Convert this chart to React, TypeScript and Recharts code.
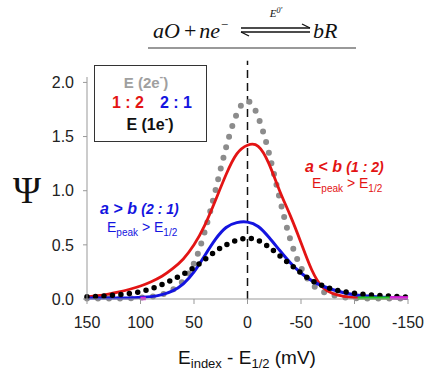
import React from "react";
import { LineChart, Line, XAxis, YAxis, ReferenceLine } from "recharts";

// potential axis, mV (reversed on screen)
const mV = [150, 140, 130, 120, 110, 100, 90, 80, 70, 60, 50, 40, 30, 20, 10, 0, -10, -20, -30, -40, -50, -60, -70, -80, -90, -100, -110, -120, -130, -140, -150];

// E (2e-) grey dotted
const grey2e = [0.005, 0.005, 0.005, 0.005, 0.007, 0.012, 0.02, 0.04, 0.085, 0.17, 0.33, 0.62, 1.0, 1.4, 1.71, 1.83, 1.68, 1.35, 0.93, 0.55, 0.29, 0.14, 0.07, 0.035, 0.015, 0.008, 0.005, 0.005, 0.005, 0.005, 0.005];
// 1 : 2 red
const red12 = [0.02, 0.03, 0.045, 0.065, 0.09, 0.12, 0.16, 0.21, 0.28, 0.37, 0.5, 0.68, 0.91, 1.15, 1.34, 1.42, 1.41, 1.25, 1.0, 0.77, 0.52, 0.27, 0.11, 0.05, 0.025, 0.013, 0.01, 0.01, 0.01, 0.01, 0.01];
// 2 : 1 blue
const blue21 = [0.01, 0.01, 0.01, 0.01, 0.01, 0.015, 0.022, 0.04, 0.075, 0.14, 0.25, 0.4, 0.55, 0.66, 0.705, 0.71, 0.67, 0.57, 0.45, 0.335, 0.24, 0.17, 0.12, 0.085, 0.058, 0.04, 0.03, 0.021, 0.015, 0.011, 0.01];
// E (1e-) black dotted
const black1e = [0.02, 0.025, 0.031, 0.04, 0.051, 0.068, 0.095, 0.133, 0.178, 0.23, 0.29, 0.365, 0.44, 0.5, 0.543, 0.56, 0.54, 0.48, 0.4, 0.32, 0.24, 0.172, 0.125, 0.09, 0.068, 0.052, 0.042, 0.034, 0.028, 0.022, 0.018];

// little coloured bits lying on the baseline
const greenX = [-103, -133];
const greenY = [0.01, 0.01];
const magentaX = [-133, -150];
const magentaY = [0.01, 0.01];
const magentaLeftX = [100, 95];
const magentaLeftY = [0.005, 0.005];

const xTicks = [150, 100, 50, 0, -50, -100, -150];
const yTicks = [0, 0.5, 1, 1.5, 2];

const pts = (xs: number[], ys: number[]) => xs.map((x, i) => ({ x, y: ys[i] }));

const SANS = "'Liberation Sans', Arial, sans-serif";
const SERIF = "'Liberation Serif', 'Times New Roman', serif";

const RED = "#e31414";
const BLUE = "#1414e0";
const GREY = "#8c8c8c";

function Overlay() {
  return (
    <svg
      width={426}
      height={372}
      style={{ position: "absolute", left: 0, top: 0, pointerEvents: "none" }}
    >
      {/* reaction equation */}
      <text x={153} y={38} fontFamily={SERIF} fontStyle="italic" fontSize={22} fill="#111">
        aO
        <tspan fontStyle="normal" dx={4}>+</tspan>
        <tspan dx={3}>ne</tspan>
        <tspan fontSize={13} dy={-9}>−</tspan>
      </text>
      <text x={276} y={17} fontFamily={SERIF} fontStyle="italic" fontSize={11} fill="#111" textAnchor="middle">
        E<tspan fontSize={8} dy={-4}>0'</tspan>
      </text>
      <g stroke="#111" strokeWidth={1.3} fill="none">
        <line x1={241} y1={28} x2={310} y2={28} />
        <line x1={302} y1={24} x2={310} y2={28} />
        <line x1={241} y1={32} x2={310} y2={32} />
        <line x1={241} y1={32} x2={249} y2={36} />
      </g>
      <text x={313} y={38} fontFamily={SERIF} fontStyle="italic" fontSize={22} fill="#111">
        bR
      </text>
      <line x1={148} y1={48} x2={356} y2={48} stroke="#999" strokeWidth={2} />

      {/* y label */}
      <text x={27} y={203} fontFamily={SERIF} fontSize={38} textAnchor="middle" fill="#111">
        Ψ
      </text>

      {/* legend box */}
      <rect x={94.5} y={65.5} width={112} height={76} fill="white" stroke="#333" strokeWidth={1} />
      <text x={146} y={88} fontFamily={SANS} fontWeight="bold" fontSize={15} fill="#a0a0a0" textAnchor="middle">
        E (2e<tspan fontSize={11} dy={-8}>-</tspan>
        <tspan dy={8}>)</tspan>
      </text>
      <text x={112} y={108} fontFamily={SANS} fontWeight="bold" fontSize={16} fill={RED}>
        1 : 2
      </text>
      <text x={160} y={108} fontFamily={SANS} fontWeight="bold" fontSize={16} fill={BLUE}>
        2 : 1
      </text>
      <text x={150} y={130} fontFamily={SANS} fontWeight="bold" fontSize={16} fill="#111" textAnchor="middle">
        E (1e<tspan fontSize={11} dy={-8}>-</tspan>
        <tspan dy={8}>)</tspan>
      </text>

      {/* annotations */}
      <text x={305} y={172} fontFamily={SANS} fontWeight="bold" fontStyle="italic" fontSize={16} fill={RED}>
        a &lt; b <tspan fontSize={14}>(1 : 2)</tspan>
      </text>
      <text x={312} y={188} fontFamily={SANS} fontSize={14} fill={RED}>
        E<tspan fontSize={10} dy={4}>peak</tspan>
        <tspan dy={-4}> &gt; E</tspan>
        <tspan fontSize={10} dy={4}>1/2</tspan>
      </text>
      <text x={100} y={214} fontFamily={SANS} fontWeight="bold" fontStyle="italic" fontSize={16} fill={BLUE}>
        a &gt; b <tspan fontSize={14}>(2 : 1)</tspan>
      </text>
      <text x={107} y={232} fontFamily={SANS} fontSize={14} fill={BLUE}>
        E<tspan fontSize={10} dy={4}>peak</tspan>
        <tspan dy={-4}> &gt; E</tspan>
        <tspan fontSize={10} dy={4}>1/2</tspan>
      </text>

      {/* x label */}
      <text x={247} y={364} fontFamily={SANS} fontSize={19} fill="#111" textAnchor="middle">
        E<tspan fontSize={13} dy={4}>index</tspan>
        <tspan dy={-4}> - E</tspan>
        <tspan fontSize={13} dy={4}>1/2</tspan>
        <tspan dy={-4}> (mV)</tspan>
      </text>
    </svg>
  );
}

export default function App() {
  return (
    <div style={{ position: "absolute", left: 0, top: 0, width: 426, height: 372, background: "white" }}>
      <LineChart
        width={426}
        height={372}
        margin={{ top: 77, right: 18, bottom: 43, left: 47 }}
      >
        <XAxis
          type="number"
          dataKey="x"
          domain={[-150, 150]}
          reversed
          ticks={xTicks}
          height={30}
          tickSize={5}
          tickMargin={13}
          stroke="#999"
          tick={{ fill: "#222", fontSize: 16, fontFamily: SANS }}
        />
        <YAxis
          type="number"
          dataKey="y"
          domain={[0, 2.05]}
          ticks={yTicks}
          tickFormatter={(v: number) => v.toFixed(1)}
          width={40}
          tickSize={4}
          tickMargin={9}
          stroke="#999"
          tick={{ fill: "#222", fontSize: 16, fontFamily: SANS }}
        />
        <ReferenceLine
          segment={[{ x: 0, y: 0 }, { x: 0, y: 2.2 }]}
          ifOverflow="visible"
          stroke="#111"
          strokeWidth={1.5}
          strokeDasharray="8 5"
        />
        <Line
          data={pts(mV, grey2e)}
          dataKey="y"
          type="natural"
          stroke={GREY}
          strokeWidth={6}
          strokeLinecap="round"
          strokeDasharray="0 11"
          dot={false}
          isAnimationActive={false}
        />
        <Line
          data={pts(mV, red12)}
          dataKey="y"
          type="natural"
          stroke={RED}
          strokeWidth={2.8}
          dot={false}
          isAnimationActive={false}
        />
        <Line
          data={pts(mV, blue21)}
          dataKey="y"
          type="natural"
          stroke={BLUE}
          strokeWidth={3}
          dot={false}
          isAnimationActive={false}
        />
        <Line
          data={pts(mV, black1e)}
          dataKey="y"
          type="natural"
          stroke="#000"
          strokeWidth={5.5}
          strokeLinecap="round"
          strokeDasharray="0 8.5"
          dot={false}
          isAnimationActive={false}
        />
        <Line
          data={pts(greenX, greenY)}
          dataKey="y"
          stroke="#22cc22"
          strokeWidth={3}
          dot={false}
          isAnimationActive={false}
        />
        <Line
          data={pts(magentaX, magentaY)}
          dataKey="y"
          stroke="#dd22dd"
          strokeWidth={3.5}
          dot={false}
          isAnimationActive={false}
        />
        <Line
          data={pts(magentaLeftX, magentaLeftY)}
          dataKey="y"
          stroke="#dd22dd"
          strokeWidth={3.5}
          dot={false}
          isAnimationActive={false}
        />
      </LineChart>
      <Overlay />
    </div>
  );
}
